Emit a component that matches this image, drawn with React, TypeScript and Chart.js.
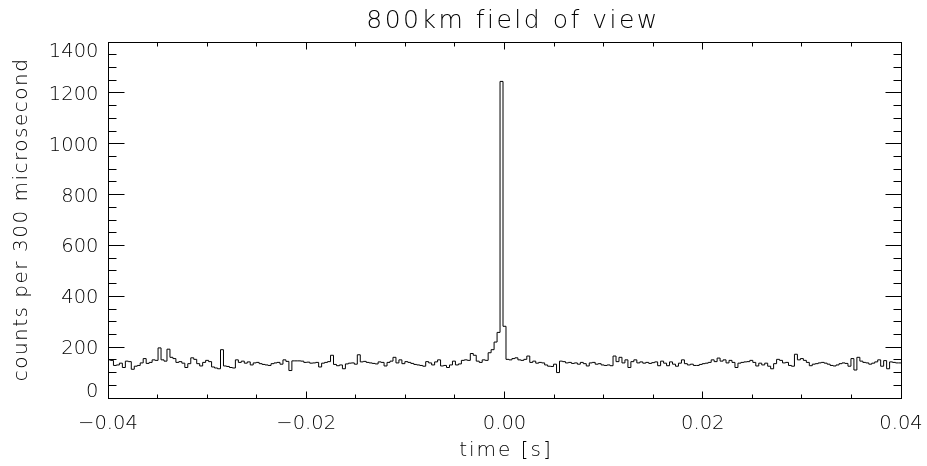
import React, { useEffect, useRef } from "react";
import { Chart, registerables } from "chart.js";

Chart.register(...registerables);

// ---- data (counts per 300 µs bin, bins centred on k*0.0003 s, k = -133..133) ----
const binWidth = 0.0003;
const firstBinIndex = -133;

const countsEarly = [
  113, 150, 148, 128, 130, 137, 120, 145, 143, 113,
  125, 128, 138, 155, 136, 140, 150, 148, 197, 150,
  145, 192, 160, 155, 140, 143, 137, 120, 135, 158,
  152, 135, 126, 140, 148, 143, 122, 118, 115, 190,
  126, 124, 120, 118, 150, 140, 145, 137, 142, 130,
  138, 140, 135, 132, 130, 128, 135, 138, 140, 133,
  150, 144, 108, 146, 146,
];
const countsPre = [
  146, 145, 140, 141, 137, 138, 140, 122, 137, 140,
  143, 168, 132, 127, 130, 115, 134, 137, 138, 133,
  170, 142, 144, 140, 138, 136, 134, 142, 140, 126,
  140, 145, 160, 138, 150, 135, 143, 140, 136, 132,
  130, 128, 125, 143, 138, 130, 142, 150, 126, 128,
  120, 130, 145, 130, 134, 148, 150, 148, 175, 168,
  145, 140, 150, 148, 178, 190, 220, 258,
];
const countsPeak = [1245];
const countsPost = [
  282, 152, 150, 155, 158, 150, 148, 152, 165, 140,
  145, 137, 140, 138, 130, 125, 124, 133, 100, 145,
  143, 138, 140, 136, 138, 133, 140, 135, 126, 138,
  140, 133, 135, 130, 128, 130, 127, 165, 143, 160,
  138, 150, 120, 143, 150, 138, 142, 137, 140, 136,
  139, 142, 127, 145, 137, 127, 142, 133, 125, 137,
  150, 135, 130, 133, 128, 128, 132, 135, 137,
];
const countsLate = [
  140, 150, 143, 157, 145, 150, 138, 148, 140, 120,
  137, 140, 142, 143, 148, 140, 126, 137, 130, 137,
  125, 115, 135, 152, 148, 138, 140, 128, 125, 172,
  150, 155, 148, 140, 127, 133, 135, 138, 140, 137,
  133, 128, 126, 130, 135, 138, 136, 125, 155, 110,
  160, 145, 140, 138, 133, 137, 142, 150, 125, 147,
  115, 142, 140, 138,
];

const counts = [...countsEarly, ...countsPre, ...countsPeak, ...countsPost, ...countsLate];

const xMin = -0.04;
const xMax = 0.04;
const yMin = 0;
const yMax = 1400;

const xMajorTicks = [-0.04, -0.02, 0, 0.02, 0.04];
const xTickLabels = ["\u22120.04", "\u22120.02", "0.00", "0.02", "0.04"];
const xMinorStep = 0.005;
const yMajorTicks = [0, 200, 400, 600, 800, 1000, 1200, 1400];
const yTickLabels = ["0", "200", "400", "600", "800", "1000", "1200", "1400"];
const yMinorStep = 50;

const titleText = "800km field of view";
const xTitle = "time [s]";
const yTitle = "counts per 300 microsecond";

const FONT_FAMILY = '"DejaVu Sans", sans-serif';

function buildSteps() {
  const pts: { x: number; y: number }[] = [];
  counts.forEach((c, i) => {
    const centre = (firstBinIndex + i) * binWidth;
    pts.push({ x: centre - binWidth / 2, y: c });
  });
  const lastCentre = (firstBinIndex + counts.length - 1) * binWidth;
  pts.push({ x: lastCentre + binWidth / 2, y: counts[counts.length - 1] });
  return pts;
}

const idlFrame = {
  id: "idlFrame",
  afterDraw(chart: any) {
    const ctx: CanvasRenderingContext2D = chart.ctx;
    const xs = chart.scales.x;
    const ys = chart.scales.y;
    const L = Math.floor(xs.getPixelForValue(xMin)) + 0.5;
    const R = Math.floor(xs.getPixelForValue(xMax)) + 0.5;
    const T = Math.floor(ys.getPixelForValue(yMax)) + 0.5;
    const B = Math.floor(ys.getPixelForValue(yMin)) + 0.5;
    ctx.save();
    ctx.strokeStyle = "#000";
    ctx.lineWidth = 1;
    ctx.strokeRect(L, T, R - L, B - T);

    ctx.beginPath();
    const xMajorLen = 7;
    const xMinorLen = 4;
    for (let v = xMin; v <= xMax + 1e-9; v += xMinorStep) {
      const isMajor = xMajorTicks.some((m) => Math.abs(m - v) < 1e-9);
      const len = isMajor ? xMajorLen : xMinorLen;
      const px = Math.floor(xs.getPixelForValue(v)) + 0.5;
      ctx.moveTo(px, B);
      ctx.lineTo(px, B - len);
      ctx.moveTo(px, T);
      ctx.lineTo(px, T + len);
    }
    const yMajorLen = 16;
    const yMinorLen = 8;
    for (let v = yMin; v <= yMax + 1e-9; v += yMinorStep) {
      const isMajor = yMajorTicks.includes(v);
      const len = isMajor ? yMajorLen : yMinorLen;
      const py = Math.floor(ys.getPixelForValue(v)) + 0.5;
      ctx.moveTo(L, py);
      ctx.lineTo(L + len, py);
      ctx.moveTo(R, py);
      ctx.lineTo(R - len, py);
    }
    ctx.stroke();

    ctx.fillStyle = "#000";
    const anyCtx = ctx as any;

    ctx.font = `200 19.5px ${FONT_FAMILY}`;
    anyCtx.letterSpacing = "0px";
    ctx.textBaseline = "alphabetic";
    ctx.textAlign = "center";
    xMajorTicks.forEach((v, i) => {
      const px = xs.getPixelForValue(v);
      ctx.fillText(xTickLabels[i], px, B + 30);
    });
    ctx.textAlign = "right";
    yMajorTicks.forEach((v, i) => {
      let py = ys.getPixelForValue(v) + 7;
      if (i === 0) py -= 8;
      if (i === yMajorTicks.length - 1) py += 8;
      ctx.fillText(yTickLabels[i], L - 10, py);
    });

    ctx.font = `200 25px ${FONT_FAMILY}`;
    anyCtx.letterSpacing = "2.5px";
    ctx.textAlign = "center";
    ctx.fillText(titleText, (L + R) / 2 + 8, 28);

    ctx.font = `200 20px ${FONT_FAMILY}`;
    anyCtx.letterSpacing = "2px";
    ctx.fillText(xTitle, (L + R) / 2 + 1, 456);

    anyCtx.letterSpacing = "1.5px";
    ctx.save();
    ctx.translate(27, (T + B) / 2);
    ctx.rotate(-Math.PI / 2);
    ctx.textAlign = "center";
    ctx.fillText(yTitle, 1, 0);
    ctx.restore();

    anyCtx.letterSpacing = "0px";
    ctx.restore();
  },
};

export default function App() {
  const canvasRef = useRef<HTMLCanvasElement | null>(null);

  useEffect(() => {
    document.body.style.margin = "0";
    document.body.style.background = "#fff";
    const canvas = canvasRef.current;
    if (!canvas) return;
    const chart = new Chart(canvas, {
      type: "line",
      data: {
        datasets: [
          {
            data: buildSteps(),
            stepped: "after",
            borderColor: "#000",
            borderWidth: 1,
            pointRadius: 0,
            fill: false,
            clip: 0,
          } as any,
        ],
      },
      options: {
        animation: false,
        responsive: false,
        maintainAspectRatio: false,
        devicePixelRatio: 1,
        layout: { padding: { left: 108, right: 26, top: 42, bottom: 68 } },
        plugins: { legend: { display: false }, tooltip: { enabled: false }, title: { display: false } },
        events: [],
        scales: {
          x: { type: "linear", min: xMin, max: xMax, display: false },
          y: { type: "linear", min: yMin, max: yMax, display: false },
        },
      },
      plugins: [idlFrame],
    });
    return () => chart.destroy();
  }, []);

  return (
    <div style={{ position: "absolute", left: 0, top: 0, width: 927, height: 466, background: "#fff" }}>
      <canvas ref={canvasRef} width={927} height={466} style={{ width: 927, height: 466, display: "block" }} />
    </div>
  );
}
